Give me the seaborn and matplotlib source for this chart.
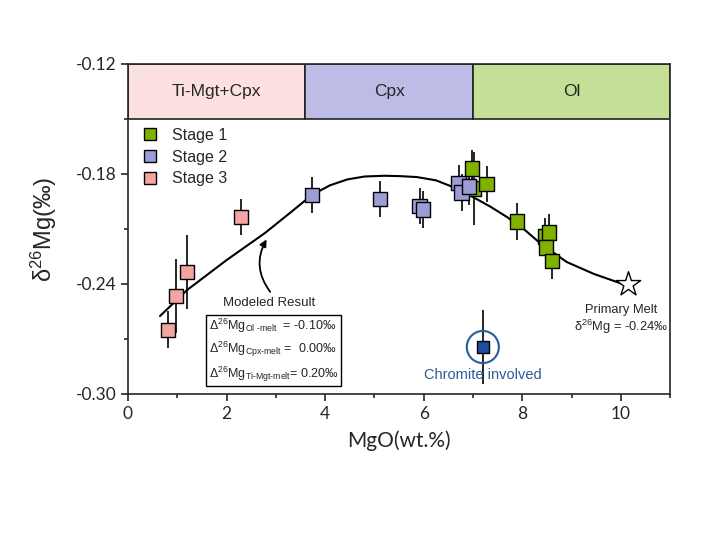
import numpy as np
import pandas as pd
import seaborn as sns
import matplotlib
import matplotlib.pyplot as plt
from matplotlib.patches import Rectangle, Ellipse

matplotlib.use("agg")

# samples: MgO (wt.%), d26Mg (permil), 2sd error, stage
stage1_mgo = [6.98, 7.02, 7.28, 7.89, 8.46, 8.54, 8.48, 8.60]
stage1_d26 = [-0.177, -0.188, -0.1855, -0.206, -0.214, -0.212, -0.220, -0.2275]
stage1_err = [0.010, 0.020, 0.010, 0.010, 0.010, 0.010, 0.010, 0.010]

stage2_mgo = [3.73, 5.11, 5.92, 5.99, 6.71, 6.77, 6.92]
stage2_d26 = [-0.1915, -0.1937, -0.1975, -0.1995, -0.185, -0.190, -0.187]
stage2_err = [0.010, 0.010, 0.010, 0.010, 0.010, 0.010, 0.010]

stage3_mgo = [0.81, 0.97, 1.20, 2.29]
stage3_d26 = [-0.265, -0.2466, -0.2335, -0.2035]
stage3_err = [0.010, 0.020, 0.020, 0.010]

chromite_mgo = [7.20]
chromite_d26 = [-0.2744]
chromite_err = [0.020]

primary_mgo = [10.14]
primary_d26 = [-0.240]

# modeled fractional crystallisation curve
model_mgo = [0.65, 1.20, 2.00, 2.78, 3.30, 3.73, 4.10, 4.45, 4.80, 5.20, 5.52,
             5.86, 6.25, 6.59, 7.00, 7.35, 7.69, 8.05, 8.36, 8.90, 9.45, 9.98,
             10.14]
model_d26 = [-0.2575, -0.2433, -0.2270, -0.2122, -0.2010, -0.1915, -0.1862,
             -0.1830, -0.1814, -0.1810, -0.1812, -0.1817, -0.1835, -0.1871,
             -0.1926, -0.1978, -0.2035, -0.2105, -0.2177, -0.2280, -0.2345,
             -0.2395, -0.2402]

# mineral assemblage bands
band_labels = ["Ti-Mgt+Cpx", "Cpx", "Ol"]
band_edges = [0, 3.6, 7.0, 11.0]
band_colors = ["#fde0e0", "#bcbce6", "#c5df97"]

stage_colors = {"Stage 1": "#80b000", "Stage 2": "#9c9cd6", "Stage 3": "#f5a4a4"}

df = pd.DataFrame({
    "MgO": stage1_mgo + stage2_mgo + stage3_mgo,
    "d26Mg": stage1_d26 + stage2_d26 + stage3_d26,
    "err": stage1_err + stage2_err + stage3_err,
    "Stage": ["Stage 1"] * len(stage1_mgo) + ["Stage 2"] * len(stage2_mgo)
    + ["Stage 3"] * len(stage3_mgo),
})
model = pd.DataFrame({"MgO": model_mgo, "d26Mg": model_d26})

sns.set_style("ticks")
plt.rcParams["font.family"] = ["Liberation Sans", "DejaVu Sans"]
plt.rcParams["mathtext.fontset"] = "custom"
plt.rcParams["mathtext.rm"] = "Liberation Sans"
plt.rcParams["mathtext.it"] = "Liberation Sans"

fig = plt.figure(figsize=(7.19, 5.51), dpi=100)
ax = fig.add_axes([0.178, 0.285, 0.754, 0.599])

# top bands
for lab, x0, x1, c in zip(band_labels, band_edges[:-1], band_edges[1:], band_colors):
    ax.add_patch(Rectangle((x0, -0.15), x1 - x0, 0.03, facecolor=c,
                           edgecolor="#222222", lw=1.2, zorder=1))
    ax.text((x0 + x1) / 2, -0.135, lab, ha="center", va="center", fontsize=12.5)

# model curve
sns.lineplot(data=model, x="MgO", y="d26Mg", color="black", lw=1.5, ax=ax,
             sort=False, zorder=2)

# error bars
ax.errorbar(df["MgO"], df["d26Mg"], yerr=df["err"], fmt="none",
            ecolor="black", elinewidth=1.2, zorder=3)
ax.errorbar(chromite_mgo, chromite_d26, yerr=chromite_err, fmt="none",
            ecolor="black", elinewidth=1.2, zorder=3)

sns.scatterplot(data=df, x="MgO", y="d26Mg", hue="Stage", palette=stage_colors,
                hue_order=["Stage 1", "Stage 2", "Stage 3"], marker="s", s=110,
                edgecolor="black", linewidth=1.0, ax=ax, zorder=4)
ax.scatter(chromite_mgo, chromite_d26, marker="s", s=80, color="#1f4ea0",
           edgecolor="black", linewidth=1.0, zorder=4)
ax.add_patch(Ellipse((chromite_mgo[0], chromite_d26[0]), 0.65, 0.0175,
                     facecolor="none", edgecolor="#2a5c9a", lw=1.5, zorder=5))
ax.scatter(primary_mgo, primary_d26, marker="*", s=340, facecolor="white",
           edgecolor="black", linewidth=1.0, zorder=5)

# annotations
ax.annotate("", xy=(2.84, -0.2144), xytext=(2.92, -0.2455),
            arrowprops=dict(arrowstyle="-|>", color="black", lw=1.3,
                            connectionstyle="arc3,rad=-0.35"))
ax.text(2.86, -0.2504, "Modeled Result", ha="center", va="center", fontsize=9.5)
ax.text(1.64, -0.2762,
        r"$\Delta^{26}$Mg$_{\mathrm{Ol\ \text{-}melt}}$  = -0.10‰" + "\n"
        r"$\Delta^{26}$Mg$_{\mathrm{Cpx\text{-}melt}}$ =  0.00‰" + "\n"
        r"$\Delta^{26}$Mg$_{\mathrm{Ti\text{-}Mgt\text{-}melt}}$= 0.20‰",
        ha="left", va="center", fontsize=9, linespacing=1.4,
        bbox=dict(boxstyle="square,pad=0.2", facecolor="white",
                  edgecolor="black", lw=1.0))
ax.text(10.0, -0.2542, "Primary Melt", ha="center", va="center", fontsize=9.3)
ax.text(10.0, -0.2635, r"δ$^{26}$Mg = -0.24‰", ha="center", va="center",
        fontsize=9.3)
ax.text(7.2, -0.2897, "Chromite involved", ha="center", va="center",
        fontsize=10.5, color="#2a5c9a")

# legend
leg = ax.legend(loc="upper left", bbox_to_anchor=(-0.015, 0.85), frameon=False,
                fontsize=11.5, handletextpad=0.35, labelspacing=0.42,
                markerscale=0.8, borderaxespad=0.5)

ax.set_xlim(0, 11)
ax.set_ylim(-0.30, -0.12)
ax.set_xticks([0, 2, 4, 6, 8, 10])
ax.set_xticks([1, 3, 5, 7, 9, 11], minor=True)
ax.set_yticks([-0.30, -0.24, -0.18, -0.12])
ax.set_yticks([-0.27, -0.21, -0.15], minor=True)
ax.set_yticklabels(["-0.30", "-0.24", "-0.18", "-0.12"])
ax.tick_params(which="major", length=5, width=1.2, labelsize=12.5, direction="out")
ax.tick_params(which="minor", length=3, width=1.2, direction="out")
for lbl in ax.get_xticklabels() + ax.get_yticklabels():
    lbl.set_family(["Lato", "DejaVu Sans"])
for sp in ax.spines.values():
    sp.set_linewidth(1.2)
    sp.set_visible(True)

ax.set_xlabel("MgO(wt.%)", fontsize=15, family=["Lato", "DejaVu Sans"],
              labelpad=6)
ax.set_ylabel(r"δ$^{26}$Mg(‰)", fontsize=17, labelpad=12)

fig.savefig("out.png", dpi=100)
